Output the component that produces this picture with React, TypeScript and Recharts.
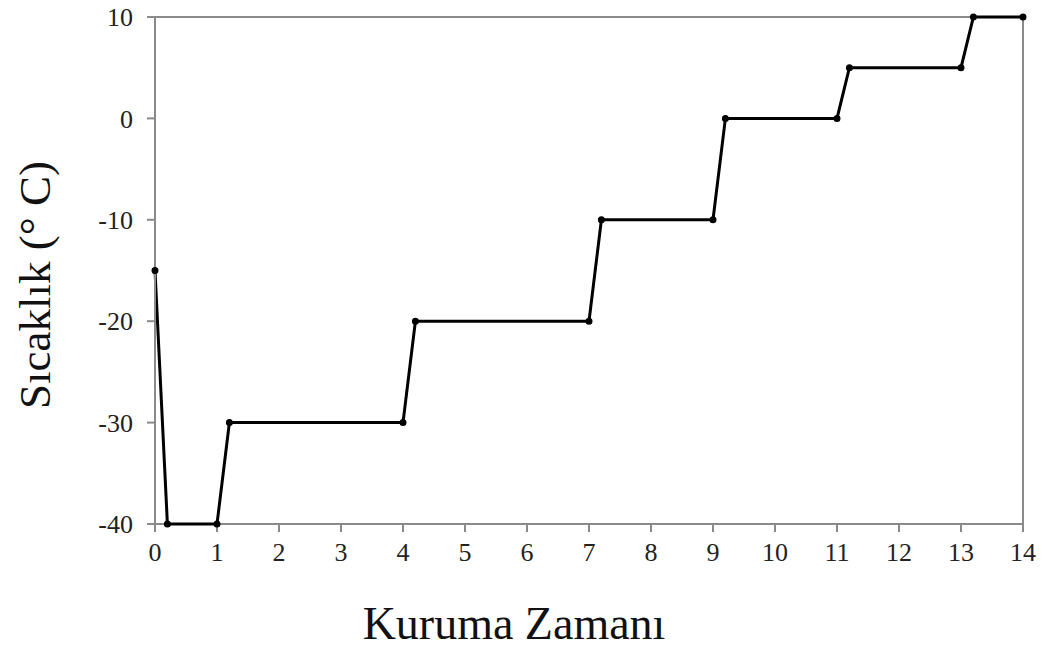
import { LineChart, Line, XAxis, YAxis, ReferenceLine, Label } from "recharts";

const times = [0, 0.2, 1, 1.2, 4, 4.2, 7, 7.2, 9, 9.2, 11, 11.2, 13, 13.2, 14];
const temps = [-15, -40, -40, -30, -30, -20, -20, -10, -10, 0, 0, 5, 5, 10, 10];
const xTicks = [0, 1, 2, 3, 4, 5, 6, 7, 8, 9, 10, 11, 12, 13, 14];
const yTicks = [-40, -30, -20, -10, 0, 10];

const data = times.map((t, i) => ({ t, v: temps[i] }));

const font = "'Liberation Serif', 'Times New Roman', serif";
const axisColor = "#8a8a8a";

export default function App() {
  return (
    <div style={{ position: "absolute", left: 0, top: 0, background: "#fff" }}>
      <LineChart
        width={1047}
        height={650}
        data={data}
        margin={{ top: 17, right: 24, left: 0, bottom: 0 }}
      >
        <XAxis
          dataKey="t"
          type="number"
          domain={[0, 14]}
          ticks={xTicks}
          height={126}
          tickSize={8}
          tickMargin={11}
          axisLine={false}
          stroke={axisColor}
          strokeWidth={2}
          tick={{ fill: "#222", fontSize: 26, fontFamily: font }}
        >
          <Label
            content={() => (
              <text
                x={514}
                y={639}
                textAnchor="middle"
                style={{ fill: "#111", fontSize: 46, fontFamily: font }}
              >
                Kuruma Zamanı
              </text>
            )}
          />
        </XAxis>
        <YAxis
          type="number"
          domain={[-40, 10]}
          ticks={yTicks}
          width={155}
          tickSize={8}
          tickMargin={14}
          stroke={axisColor}
          strokeWidth={2}
          tick={{ fill: "#222", fontSize: 26, fontFamily: font }}
        >
          <Label
            content={() => (
              <text
                x={50}
                y={285}
                textAnchor="middle"
                transform="rotate(-90 50 285)"
                style={{ fill: "#111", fontSize: 45, fontFamily: font }}
              >
                Sıcaklık (° C)
              </text>
            )}
          />
        </YAxis>
        <ReferenceLine y={10} stroke={axisColor} strokeWidth={2} />
        <ReferenceLine y={-40} stroke={axisColor} strokeWidth={2} />
        <ReferenceLine x={14} stroke={axisColor} strokeWidth={2} />
        <Line
          type="linear"
          dataKey="v"
          stroke="#000"
          strokeWidth={3}
          dot={{ r: 2, fill: "#000", stroke: "#000" }}
          isAnimationActive={false}
        />
      </LineChart>
    </div>
  );
}
